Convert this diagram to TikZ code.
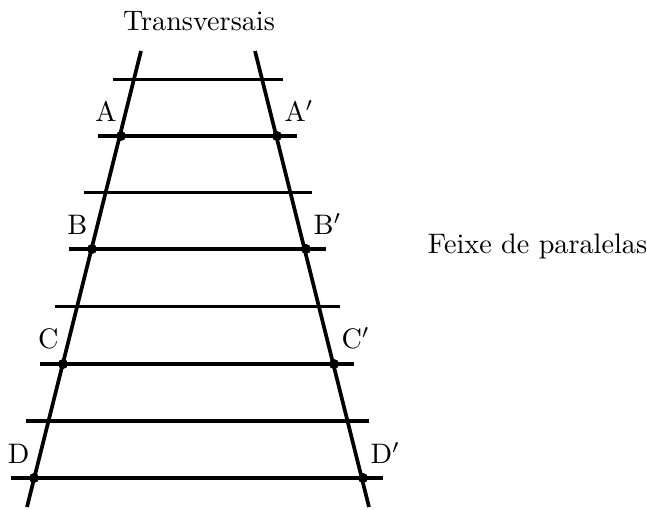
\documentclass[tikz,border=0pt]{standalone}
\usetikzlibrary{calc}
\tikzset{
  reta/.style={line width=1.3pt},
  rotesq/.style={anchor=south east,inner sep=0pt},
  rotdir/.style={anchor=south west,inner sep=0pt}
}
\begin{document}
\begin{tikzpicture}[x=0.3546pt,y=-0.3546pt]
\useasboundingbox (0,0) rectangle (647,509);
% Pontos nas transversais
\coordinate (A) at (121,136);
\coordinate (B) at (92,249);
\coordinate (C) at (63,364);
\coordinate (D) at (34,478);
\coordinate (A1) at (277,136);
\coordinate (B1) at (306,249);
\coordinate (C1) at (334,364);
\coordinate (D1) at (363,478);
% Transversais
\coordinate (topoE) at (141,51);
\coordinate (baseE) at (27,507);
\coordinate (topoD) at (255,51);
\coordinate (baseD) at (369,507);
\draw[reta] (topoE) -- (baseE);
\draw[reta] (topoD) -- (baseD);
\node[anchor=base] (transv) at (199,30) {Transversais};
% Feixe de paralelas
\draw[reta] ($(A)!-0.5!(B)+(-23,0)$) -- ($(A1)!-0.5!(B1)+(20,0)$);
\draw[reta] ($(A)+(-23,0)$) -- ($(A1)+(20,0)$);
\draw[reta] ($(A)!0.5!(B)+(-23,0)$) -- ($(A1)!0.5!(B1)+(20,0)$);
\draw[reta] ($(B)+(-23,0)$) -- ($(B1)+(20,0)$);
\draw[reta] ($(B)!0.5!(C)+(-23,0)$) -- ($(B1)!0.5!(C1)+(20,0)$);
\draw[reta] ($(C)+(-23,0)$) -- ($(C1)+(20,0)$);
\draw[reta] ($(C)!0.5!(D)+(-23,0)$) -- ($(C1)!0.5!(D1)+(20,0)$);
\draw[reta] ($(D)+(-23,0)$) -- ($(D1)+(20,0)$);
\node[anchor=base west] (feixe) at (418,253) {Feixe de paralelas};
% Pontos e rotulos
\fill (A) circle[radius=5] (B) circle[radius=5] (C) circle[radius=5] (D) circle[radius=5];
\fill (A1) circle[radius=5] (B1) circle[radius=5] (C1) circle[radius=5] (D1) circle[radius=5];
\node[rotesq] (labA) at ($(A)+(-4,-14)$) {A};
\node[rotesq] (labB) at ($(B)+(-4,-14)$) {B};
\node[rotesq] (labC) at ($(C)+(-4,-14)$) {C};
\node[rotesq] (labD) at ($(D)+(-4,-14)$) {D};
\node[rotdir] (labA1) at ($(A1)+(7,-14)$) {A$'$};
\node[rotdir] (labB1) at ($(B1)+(7,-14)$) {B$'$};
\node[rotdir] (labC1) at ($(C1)+(7,-14)$) {C$'$};
\node[rotdir] (labD1) at ($(D1)+(7,-14)$) {D$'$};
\end{tikzpicture}
\end{document}
